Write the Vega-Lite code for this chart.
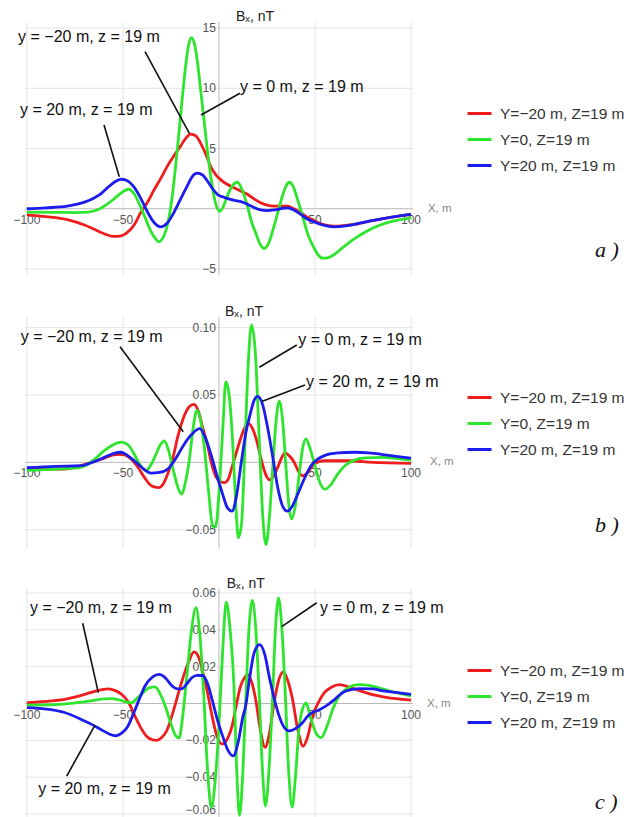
{
"$schema":"https://vega.github.io/schema/vega-lite/v6.json",
"padding":0,"spacing":0,"bounds":"flush","background":"white",
"config":{"font":"Liberation Sans","view":{"stroke":null}},
"resolve":{"scale":{"x":"independent","y":"independent","color":"independent"},"legend":{"color":"independent"}},
"datasets":{
"aR":[{"x":-100,"y":-0.5},{"x":-90,"y":-0.65},{"x":-79,"y":-0.9},{"x":-70,"y":-1.35},{"x":-65,"y":-1.7},{"x":-60,"y":-2.05},{"x":-55,"y":-2.3},{"x":-51,"y":-2.25},{"x":-48,"y":-2.0},{"x":-44,"y":-1.3},{"x":-41,"y":-0.4},{"x":-37,"y":0.6},{"x":-34,"y":1.5},{"x":-30,"y":2.6},{"x":-27,"y":3.5},{"x":-23,"y":4.5},{"x":-20,"y":5.2},{"x":-17,"y":5.9},{"x":-14.8,"y":6.2},{"x":-12,"y":6.05},{"x":-9.6,"y":5.45},{"x":-7,"y":4.6},{"x":-4.3,"y":3.5},{"x":-1.5,"y":2.8},{"x":1,"y":2.4},{"x":4,"y":2.05},{"x":7.8,"y":1.75},{"x":11,"y":1.5},{"x":14.8,"y":1.2},{"x":18,"y":0.85},{"x":21.7,"y":0.5},{"x":25,"y":0.3},{"x":28.7,"y":0.22},{"x":32,"y":0.22},{"x":35.7,"y":0.22},{"x":39,"y":0.0},{"x":42.6,"y":-0.33},{"x":46,"y":-0.7},{"x":49.6,"y":-1.0},{"x":54,"y":-1.3},{"x":60,"y":-1.45},{"x":65,"y":-1.4},{"x":70.4,"y":-1.3},{"x":76,"y":-1.1},{"x":82.6,"y":-0.9},{"x":90,"y":-0.7},{"x":100,"y":-0.47}],
"aG":[{"x":-100,"y":-0.28},{"x":-85,"y":-0.3},{"x":-75,"y":-0.32},{"x":-68,"y":-0.28},{"x":-62,"y":0},{"x":-58,"y":0.4},{"x":-55,"y":0.77},{"x":-51,"y":1.3},{"x":-47,"y":1.62},{"x":-44,"y":1.2},{"x":-41,"y":0.22},{"x":-38,"y":-0.9},{"x":-35.7,"y":-1.8},{"x":-33,"y":-2.5},{"x":-31.3,"y":-2.75},{"x":-29.5,"y":-2.5},{"x":-27,"y":-1.43},{"x":-24.5,"y":0.8},{"x":-21.7,"y":4.9},{"x":-19.5,"y":8.5},{"x":-17.4,"y":11.8},{"x":-15.8,"y":13.6},{"x":-14.3,"y":14.2},{"x":-12.8,"y":13.7},{"x":-11.3,"y":12.3},{"x":-9.5,"y":9.8},{"x":-7.8,"y":7.4},{"x":-6,"y":4.8},{"x":-4.3,"y":2.7},{"x":-2,"y":0.6},{"x":0.3,"y":-0.22},{"x":2.3,"y":0.2},{"x":4.3,"y":1.05},{"x":7,"y":1.9},{"x":9.6,"y":2.2},{"x":12,"y":1.6},{"x":14.8,"y":0.22},{"x":17,"y":-1.1},{"x":19.1,"y":-2.0},{"x":21.3,"y":-2.9},{"x":23.5,"y":-3.3},{"x":25.8,"y":-2.9},{"x":28.7,"y":-1.43},{"x":31,"y":-0.1},{"x":33,"y":1.05},{"x":35,"y":1.9},{"x":36.5,"y":2.2},{"x":38.5,"y":1.9},{"x":40.9,"y":0.77},{"x":43.5,"y":-0.6},{"x":46,"y":-2.0},{"x":49,"y":-3.1},{"x":51.5,"y":-3.8},{"x":54,"y":-4.1},{"x":57,"y":-4.05},{"x":60,"y":-3.8},{"x":65,"y":-3.15},{"x":70.4,"y":-2.5},{"x":76,"y":-1.95},{"x":82.6,"y":-1.43},{"x":90,"y":-1.05},{"x":100,"y":-0.75}],
"aB":[{"x":-100,"y":0},{"x":-90,"y":0.08},{"x":-79,"y":0.22},{"x":-70,"y":0.55},{"x":-65,"y":0.9},{"x":-61,"y":1.3},{"x":-58,"y":1.75},{"x":-54.5,"y":2.2},{"x":-51,"y":2.45},{"x":-48,"y":2.35},{"x":-44,"y":1.75},{"x":-40.5,"y":0.8},{"x":-37,"y":-0.33},{"x":-34,"y":-1.1},{"x":-30.4,"y":-1.5},{"x":-27,"y":-1.2},{"x":-23.5,"y":-0.33},{"x":-20,"y":0.8},{"x":-16.5,"y":1.9},{"x":-14,"y":2.65},{"x":-11.3,"y":2.95},{"x":-8.5,"y":2.8},{"x":-6,"y":2.3},{"x":-3.5,"y":1.7},{"x":-0.9,"y":1.2},{"x":2.5,"y":0.95},{"x":6,"y":0.77},{"x":9.5,"y":0.65},{"x":13,"y":0.5},{"x":17,"y":0.2},{"x":21.7,"y":-0.1},{"x":25,"y":-0.15},{"x":28.7,"y":-0.1},{"x":32,"y":0.0},{"x":35.7,"y":0.08},{"x":39,"y":-0.1},{"x":42.6,"y":-0.47},{"x":46,"y":-0.85},{"x":49.6,"y":-1.1},{"x":54,"y":-1.35},{"x":60,"y":-1.5},{"x":65,"y":-1.45},{"x":70.4,"y":-1.3},{"x":76,"y":-1.1},{"x":82.6,"y":-0.9},{"x":90,"y":-0.7},{"x":100,"y":-0.47}],
"bR":[{"x":-100,"y":-0.005},{"x":-90,"y":-0.005},{"x":-80.5,"y":-0.005},{"x":-73,"y":-0.003},{"x":-66.7,"y":0},{"x":-60,"y":0.003},{"x":-55,"y":0.0055},{"x":-52,"y":0.006},{"x":-49,"y":0.0055},{"x":-45.8,"y":0.0025},{"x":-42,"y":-0.004},{"x":-38.9,"y":-0.011},{"x":-35,"y":-0.0175},{"x":-31.5,"y":-0.0187},{"x":-29,"y":-0.016},{"x":-26.7,"y":-0.0087},{"x":-24,"y":0.003},{"x":-21.5,"y":0.0187},{"x":-19,"y":0.031},{"x":-17,"y":0.038},{"x":-15,"y":0.042},{"x":-13,"y":0.043},{"x":-10.5,"y":0.037},{"x":-8.5,"y":0.026},{"x":-6,"y":0.013},{"x":-4.2,"y":0.001},{"x":-1.5,"y":-0.011},{"x":1,"y":-0.0145},{"x":3,"y":-0.015},{"x":5,"y":-0.012},{"x":6.3,"y":-0.006},{"x":9,"y":0.007},{"x":11.5,"y":0.0187},{"x":13.5,"y":0.026},{"x":15.3,"y":0.029},{"x":17.5,"y":0.025},{"x":20.1,"y":0.0137},{"x":22,"y":0.002},{"x":23.6,"y":-0.006},{"x":25,"y":-0.011},{"x":26.7,"y":-0.013},{"x":28.5,"y":-0.01},{"x":30.6,"y":-0.0037},{"x":32.5,"y":0.003},{"x":34.4,"y":0.007},{"x":36.5,"y":0.005},{"x":39.2,"y":0},{"x":41.5,"y":-0.007},{"x":43.6,"y":-0.01},{"x":46,"y":-0.008},{"x":48.8,"y":-0.0025},{"x":52,"y":0.0005},{"x":54.9,"y":0.0012},{"x":67,"y":0.0012},{"x":80,"y":0},{"x":100,"y":-0.0007}],
"bG":[{"x":-100,"y":-0.006},{"x":-85,"y":-0.005},{"x":-72,"y":-0.0037},{"x":-65,"y":0.002},{"x":-59.7,"y":0.0087},{"x":-55,"y":0.013},{"x":-51,"y":0.015},{"x":-47,"y":0.0125},{"x":-44.1,"y":0.006},{"x":-41,"y":-0.002},{"x":-38,"y":-0.006},{"x":-35.5,"y":-0.002},{"x":-32.8,"y":0.006},{"x":-30.5,"y":0.013},{"x":-28.5,"y":0.016},{"x":-26.5,"y":0.01},{"x":-24.1,"y":-0.0037},{"x":-21.5,"y":-0.018},{"x":-19.4,"y":-0.0236},{"x":-17.5,"y":-0.015},{"x":-15.5,"y":0.0012},{"x":-13.5,"y":0.025},{"x":-11.5,"y":0.0385},{"x":-9.7,"y":0.032},{"x":-7.6,"y":0.011},{"x":-5.5,"y":-0.02},{"x":-3.3,"y":-0.047},{"x":-1.8,"y":-0.048},{"x":0.2,"y":-0.0187},{"x":2,"y":0.025},{"x":3.6,"y":0.06},{"x":5.3,"y":0.05},{"x":7.1,"y":0.016},{"x":8.7,"y":-0.03},{"x":10.1,"y":-0.056},{"x":11.8,"y":-0.045},{"x":13.5,"y":0.011},{"x":15.3,"y":0.075},{"x":17,"y":0.102},{"x":19,"y":0.08},{"x":21,"y":0.016},{"x":22.8,"y":-0.04},{"x":24.5,"y":-0.061},{"x":26.3,"y":-0.04},{"x":28,"y":-0.0037},{"x":29.7,"y":0.03},{"x":31.4,"y":0.0455},{"x":33.2,"y":0.03},{"x":34.9,"y":-0.0037},{"x":36.4,"y":-0.032},{"x":37.8,"y":-0.042},{"x":39.8,"y":-0.032},{"x":41.8,"y":-0.0087},{"x":43.5,"y":0.01},{"x":45.3,"y":0.0174},{"x":47.5,"y":0.01},{"x":49.7,"y":-0.0012},{"x":52.5,"y":-0.015},{"x":55.2,"y":-0.02},{"x":58,"y":-0.017},{"x":61.8,"y":-0.0087},{"x":66,"y":-0.002},{"x":70.5,"y":0.0017},{"x":77,"y":0.0033},{"x":84.4,"y":0.0037},{"x":92,"y":0.003},{"x":100,"y":0.0017}],
"bB":[{"x":-100,"y":-0.004},{"x":-85,"y":-0.003},{"x":-72,"y":-0.0025},{"x":-65,"y":0.0005},{"x":-59.7,"y":0.0037},{"x":-55,"y":0.0065},{"x":-51,"y":0.0075},{"x":-47.5,"y":0.005},{"x":-44.1,"y":0.0012},{"x":-40,"y":-0.004},{"x":-35.4,"y":-0.008},{"x":-31,"y":-0.0075},{"x":-26.7,"y":-0.005},{"x":-22,"y":0.004},{"x":-18,"y":0.0137},{"x":-14,"y":0.021},{"x":-10,"y":0.025},{"x":-7,"y":0.018},{"x":-4.2,"y":0.006},{"x":-1,"y":-0.01},{"x":1.9,"y":-0.0236},{"x":4.5,"y":-0.034},{"x":6.8,"y":-0.0362},{"x":9,"y":-0.026},{"x":11.5,"y":-0.0012},{"x":14,"y":0.022},{"x":16.3,"y":0.036},{"x":18.3,"y":0.046},{"x":20.1,"y":0.049},{"x":22.5,"y":0.044},{"x":25.3,"y":0.026},{"x":28,"y":0.004},{"x":30.6,"y":-0.0187},{"x":33,"y":-0.032},{"x":35.6,"y":-0.0362},{"x":38,"y":-0.033},{"x":41,"y":-0.0236},{"x":44.5,"y":-0.012},{"x":47.9,"y":-0.0025},{"x":51,"y":0.002},{"x":54.9,"y":0.005},{"x":62,"y":0.007},{"x":70.5,"y":0.0075},{"x":78,"y":0.007},{"x":84.4,"y":0.006},{"x":92,"y":0.0045},{"x":100,"y":0.0032}],
"cR":[{"x":-100,"y":0.0005},{"x":-90,"y":0.0012},{"x":-80.4,"y":0.0023},{"x":-72,"y":0.0043},{"x":-66.5,"y":0.006},{"x":-61,"y":0.0075},{"x":-57.7,"y":0.0079},{"x":-54,"y":0.007},{"x":-50.7,"y":0.005},{"x":-47,"y":0.0005},{"x":-43.8,"y":-0.0067},{"x":-40.5,"y":-0.0135},{"x":-37.7,"y":-0.0178},{"x":-34.5,"y":-0.0198},{"x":-32.4,"y":-0.02},{"x":-29.8,"y":-0.0185},{"x":-27.2,"y":-0.0148},{"x":-24,"y":-0.005},{"x":-21,"y":0.006},{"x":-18.4,"y":0.015},{"x":-15.8,"y":0.0225},{"x":-13,"y":0.028},{"x":-10.5,"y":0.025},{"x":-8.8,"y":0.0186},{"x":-6,"y":0.006},{"x":-3.6,"y":-0.0067},{"x":-1,"y":-0.018},{"x":1.7,"y":-0.022},{"x":4.5,"y":-0.019},{"x":6.9,"y":-0.012},{"x":9,"y":-0.001},{"x":11.3,"y":0.0096},{"x":13.3,"y":0.014},{"x":15.1,"y":0.0157},{"x":17.2,"y":0.011},{"x":19.1,"y":0.0023},{"x":21.5,"y":-0.014},{"x":24,"y":-0.0238},{"x":26.3,"y":-0.016},{"x":28.7,"y":0.0005},{"x":31.2,"y":0.013},{"x":33.5,"y":0.0172},{"x":35.8,"y":0.0125},{"x":38.3,"y":0.0023},{"x":41,"y":-0.014},{"x":43.8,"y":-0.0232},{"x":46.2,"y":-0.018},{"x":48.8,"y":-0.0067},{"x":52,"y":0.001},{"x":55,"y":0.006},{"x":58.5,"y":0.0088},{"x":62.8,"y":0.0102},{"x":68,"y":0.0088},{"x":73.3,"y":0.0069},{"x":80,"y":0.0048},{"x":85.5,"y":0.0036},{"x":92,"y":0.0026},{"x":100,"y":0.0018}],
"cG":[{"x":-100,"y":-0.0009},{"x":-85,"y":-0.0006},{"x":-75,"y":0.0003},{"x":-66,"y":0.0015},{"x":-60,"y":0.0025},{"x":-56,"y":0.0027},{"x":-52,"y":0.002},{"x":-48,"y":0.0008},{"x":-45.5,"y":0.0005},{"x":-42.5,"y":0.003},{"x":-40.3,"y":0.005},{"x":-36.5,"y":0.0085},{"x":-33.3,"y":0.009},{"x":-30.5,"y":0.005},{"x":-28,"y":-0.0013},{"x":-25,"y":-0.011},{"x":-22.5,"y":-0.0175},{"x":-20.7,"y":-0.0186},{"x":-19,"y":-0.008},{"x":-16.7,"y":0.015},{"x":-14.5,"y":0.038},{"x":-12,"y":0.052},{"x":-10,"y":0.038},{"x":-8,"y":0.006},{"x":-6,"y":-0.035},{"x":-4,"y":-0.0565},{"x":-1.8,"y":-0.04},{"x":0,"y":-0.012},{"x":2,"y":0.03},{"x":3.8,"y":0.055},{"x":5.8,"y":0.04},{"x":7.8,"y":0.0096},{"x":9.2,"y":-0.035},{"x":10.7,"y":-0.0608},{"x":12.3,"y":-0.04},{"x":13.9,"y":0.0005},{"x":15.6,"y":0.04},{"x":17.4,"y":0.056},{"x":19.2,"y":0.04},{"x":20.9,"y":0.006},{"x":22.6,"y":-0.035},{"x":24.2,"y":-0.0556},{"x":26.1,"y":-0.035},{"x":27.8,"y":0.0005},{"x":29.4,"y":0.04},{"x":31,"y":0.0574},{"x":32.8,"y":0.04},{"x":34.5,"y":0.006},{"x":36.2,"y":-0.035},{"x":38.1,"y":-0.0563},{"x":39.8,"y":-0.04},{"x":41.5,"y":-0.0157},{"x":43.5,"y":-0.003},{"x":45.5,"y":0.0003},{"x":47,"y":-0.005},{"x":48.8,"y":-0.0112},{"x":51,"y":-0.017},{"x":53.2,"y":-0.0185},{"x":56,"y":-0.013},{"x":59.3,"y":-0.003},{"x":62.5,"y":0.004},{"x":66.3,"y":0.0078},{"x":70,"y":0.0098},{"x":73.3,"y":0.0103},{"x":78,"y":0.0098},{"x":85.5,"y":0.0078},{"x":92,"y":0.006},{"x":100,"y":0.0041}],
"cB":[{"x":-100,"y":-0.0022},{"x":-90,"y":-0.003},{"x":-80.4,"y":-0.0049},{"x":-72,"y":-0.0085},{"x":-66.5,"y":-0.0112},{"x":-60,"y":-0.015},{"x":-55.5,"y":-0.0172},{"x":-53.4,"y":-0.0175},{"x":-50.5,"y":-0.016},{"x":-47.5,"y":-0.0125},{"x":-45.5,"y":-0.008},{"x":-42,"y":0.001},{"x":-38.5,"y":0.0095},{"x":-34.5,"y":0.0145},{"x":-31,"y":0.0158},{"x":-27.5,"y":0.0135},{"x":-24.5,"y":0.0096},{"x":-21.5,"y":0.0079},{"x":-19.3,"y":0.008},{"x":-16.5,"y":0.011},{"x":-14,"y":0.0141},{"x":-11.5,"y":0.0153},{"x":-8.5,"y":0.0152},{"x":-6,"y":0.011},{"x":-3.6,"y":0.0023},{"x":-0.5,"y":-0.01},{"x":2,"y":-0.018},{"x":4.5,"y":-0.025},{"x":7.5,"y":-0.0284},{"x":10,"y":-0.021},{"x":12.5,"y":-0.007},{"x":13.9,"y":-0.0013},{"x":16,"y":0.014},{"x":18.3,"y":0.0276},{"x":21.2,"y":0.032},{"x":24,"y":0.026},{"x":26.1,"y":0.015},{"x":28.7,"y":0.003},{"x":31.3,"y":-0.0067},{"x":34,"y":-0.013},{"x":36.6,"y":-0.0149},{"x":40,"y":-0.0135},{"x":43.6,"y":-0.0103},{"x":46.5,"y":-0.0065},{"x":48.8,"y":-0.0049},{"x":52,"y":-0.0035},{"x":55.8,"y":-0.0013},{"x":60,"y":0.002},{"x":64.5,"y":0.006},{"x":69,"y":0.0075},{"x":73.3,"y":0.0081},{"x":80,"y":0.0079},{"x":85.5,"y":0.0069},{"x":92,"y":0.006},{"x":100,"y":0.005}]
},
"vconcat":[
{"width":630,"height":280,
"encoding":{"x":{"field":"x","type":"quantitative","scale":{"domain":[-114,214],"nice":false,"zero":false},"axis":null},"y":{"field":"y","type":"quantitative","scale":{"domain":[-5.913,17.324],"nice":false,"zero":false},"axis":null}},
"layer":[
{"data":{"values":[{"x":-100,"y":-5.5,"x2":-100,"y2":15.5},{"x":-50,"y":-5.5,"x2":-50,"y2":15.5},{"x":50,"y":-5.5,"x2":50,"y2":15.5},{"x":100,"y":-5.5,"x2":100,"y2":15.5},{"x":-101,"y":15,"x2":101,"y2":15},{"x":-101,"y":10,"x2":101,"y2":10},{"x":-101,"y":5,"x2":101,"y2":5},{"x":-101,"y":-5,"x2":101,"y2":-5}]},"mark":{"type":"rule","color":"#e4e4e4","strokeWidth":1},"encoding":{"x2":{"field":"x2"},"y2":{"field":"y2"}}},
{"data":{"values":[{"x":-101,"y":0,"x2":101,"y2":0},{"x":0,"y":-5.5,"x2":0,"y2":15.5}]},"mark":{"type":"rule","color":"#b8b8b8","strokeWidth":1},"encoding":{"x2":{"field":"x2"},"y2":{"field":"y2"}}},
{"data":{"values":[{"x":-100,"y":0,"t":"−100"},{"x":-50,"y":0,"t":"−50"},{"x":50,"y":0,"t":"50"},{"x":100,"y":0,"t":"100"}]},"mark":{"type":"text","fontSize":12,"color":"#555","baseline":"middle","align":"center","dy":11},"encoding":{"text":{"field":"t"}}},
{"data":{"values":[{"x":0,"y":15,"t":"15"},{"x":0,"y":10,"t":"10"},{"x":0,"y":5,"t":"5"},{"x":0,"y":-5,"t":"−5"}]},"mark":{"type":"text","fontSize":12,"color":"#555","baseline":"middle","align":"right","dx":-3},"encoding":{"text":{"field":"t"}}},
{"data":{"name":"aR"},"mark":{"type":"line","interpolate":"monotone","strokeWidth":2.8},"encoding":{"color":{"datum":"Y=−20 m, Z=19 m","type":"nominal","scale":{"domain":["Y=−20 m, Z=19 m","Y=0, Z=19 m","Y=20 m, Z=19 m"],"range":["#ee1c1c","#2ee52e","#1c1cee"]},"legend":{"orient":"none","legendX":466,"legendY":100,"title":null,"symbolType":"stroke","symbolSize":576,"symbolStrokeWidth":3,"labelFontSize":15.5,"labelColor":"#333","rowPadding":4,"labelOffset":7,"padding":0}}}},
{"data":{"name":"aG"},"mark":{"type":"line","interpolate":"monotone","strokeWidth":2.8},"encoding":{"color":{"datum":"Y=0, Z=19 m","type":"nominal"}}},
{"data":{"name":"aB"},"mark":{"type":"line","interpolate":"monotone","strokeWidth":2.8},"encoding":{"color":{"datum":"Y=20 m, Z=19 m","type":"nominal"}}},
{"data":{"values":[{"x":-38.5,"y":13.03,"x2":-15.4,"y2":6.26},{"x":10.95,"y":9.58,"x2":-9.35,"y2":7.78},{"x":-59.85,"y":6.95,"x2":-51.9,"y2":2.66}]},"mark":{"type":"rule","color":"#111","strokeWidth":1.6},"encoding":{"x2":{"field":"x2"},"y2":{"field":"y2"}}},
{"data":{"values":[{"x":-104.6,"y":14.25,"t":"y = −20 m, z = 19 m"},{"x":10.95,"y":10.1,"t":"y = 0 m, z = 19 m"},{"x":-103.6,"y":8.19,"t":"y = 20 m, z = 19 m"}]},"mark":{"type":"text","fontSize":16,"color":"#111","align":"left","baseline":"middle"},"encoding":{"text":{"field":"t"}}},
{"data":{"values":[{"x":8.87,"y":15.94,"t":"Bₓ, nT"}]},"mark":{"type":"text","fontSize":14,"color":"#222","align":"left","baseline":"middle"},"encoding":{"text":{"field":"t"}}},
{"data":{"values":[{"x":108.8,"y":0,"t":"X, m"}]},"mark":{"type":"text","fontSize":11.5,"color":"#888","align":"left","baseline":"middle"},"encoding":{"text":{"field":"t"}}},
{"data":{"values":[{"x":195.8,"y":-3.42,"t":"a )"}]},"mark":{"type":"text","fontSize":22,"font":"Liberation Serif","fontStyle":"italic","color":"#111","align":"left","baseline":"middle"},"encoding":{"text":{"field":"t"}}}
]},
{"width":630,"height":280,
"encoding":{"x":{"field":"x","type":"quantitative","scale":{"domain":[-114,214],"nice":false,"zero":false},"axis":null},"y":{"field":"y","type":"quantitative","scale":{"domain":[-0.0725,0.1354],"nice":false,"zero":false},"axis":null}},
"layer":[
{"data":{"values":[{"x":-100,"y":-0.064,"x2":-100,"y2":0.108},{"x":-50,"y":-0.064,"x2":-50,"y2":0.108},{"x":50,"y":-0.064,"x2":50,"y2":0.108},{"x":100,"y":-0.064,"x2":100,"y2":0.108},{"x":-101,"y":0.1,"x2":101,"y2":0.1},{"x":-101,"y":0.05,"x2":101,"y2":0.05},{"x":-101,"y":-0.05,"x2":101,"y2":-0.05}]},"mark":{"type":"rule","color":"#e4e4e4","strokeWidth":1},"encoding":{"x2":{"field":"x2"},"y2":{"field":"y2"}}},
{"data":{"values":[{"x":-101,"y":0,"x2":101,"y2":0},{"x":0,"y":-0.064,"x2":0,"y2":0.108}]},"mark":{"type":"rule","color":"#b8b8b8","strokeWidth":1},"encoding":{"x2":{"field":"x2"},"y2":{"field":"y2"}}},
{"data":{"values":[{"x":-100,"y":0,"t":"−100"},{"x":-50,"y":0,"t":"−50"},{"x":50,"y":0,"t":"50"},{"x":100,"y":0,"t":"100"}]},"mark":{"type":"text","fontSize":12,"color":"#555","baseline":"middle","align":"center","dy":11},"encoding":{"text":{"field":"t"}}},
{"data":{"values":[{"x":0,"y":0.1,"t":"0.10"},{"x":0,"y":0.05,"t":"0.05"},{"x":0,"y":-0.05,"t":"−0.05"}]},"mark":{"type":"text","fontSize":12,"color":"#555","baseline":"middle","align":"right","dx":-3},"encoding":{"text":{"field":"t"}}},
{"data":{"name":"bR"},"mark":{"type":"line","interpolate":"monotone","strokeWidth":2.8},"encoding":{"color":{"datum":"Y=−20 m, Z=19 m","type":"nominal","scale":{"domain":["Y=−20 m, Z=19 m","Y=0, Z=19 m","Y=20 m, Z=19 m"],"range":["#ee1c1c","#2ee52e","#1c1cee"]},"legend":{"orient":"none","legendX":466,"legendY":104,"title":null,"symbolType":"stroke","symbolSize":576,"symbolStrokeWidth":3,"labelFontSize":15.5,"labelColor":"#333","rowPadding":4,"labelOffset":7,"padding":0}}}},
{"data":{"name":"bG"},"mark":{"type":"line","interpolate":"monotone","strokeWidth":2.8},"encoding":{"color":{"datum":"Y=0, Z=19 m","type":"nominal"}}},
{"data":{"name":"bB"},"mark":{"type":"line","interpolate":"monotone","strokeWidth":2.8},"encoding":{"color":{"datum":"Y=20 m, Z=19 m","type":"nominal"}}},
{"data":{"values":[{"x":-51.5,"y":0.0859,"x2":-18.6,"y2":0.0228},{"x":40.5,"y":0.0871,"x2":21.0,"y2":0.0706},{"x":44.8,"y":0.0574,"x2":22.25,"y2":0.0451}]},"mark":{"type":"rule","color":"#111","strokeWidth":1.6},"encoding":{"x2":{"field":"x2"},"y2":{"field":"y2"}}},
{"data":{"values":[{"x":-103.2,"y":0.0929,"t":"y = −20 m, z = 19 m"},{"x":41.3,"y":0.0909,"t":"y = 0 m, z = 19 m"},{"x":45.3,"y":0.0599,"t":"y = 20 m, z = 19 m"}]},"mark":{"type":"text","fontSize":16,"color":"#111","align":"left","baseline":"middle"},"encoding":{"text":{"field":"t"}}},
{"data":{"values":[{"x":3.15,"y":0.1119,"t":"Bₓ, nT"}]},"mark":{"type":"text","fontSize":14,"color":"#222","align":"left","baseline":"middle"},"encoding":{"text":{"field":"t"}}},
{"data":{"values":[{"x":109.9,"y":0,"t":"X, m"}]},"mark":{"type":"text","fontSize":11.5,"color":"#888","align":"left","baseline":"middle"},"encoding":{"text":{"field":"t"}}},
{"data":{"values":[{"x":195.8,"y":-0.0465,"t":"b )"}]},"mark":{"type":"text","fontSize":22,"font":"Liberation Serif","fontStyle":"italic","color":"#111","align":"left","baseline":"middle"},"encoding":{"text":{"field":"t"}}}
]},
{"width":630,"height":257,
"encoding":{"x":{"field":"x","type":"quantitative","scale":{"domain":[-114,214],"nice":false,"zero":false},"axis":null},"y":{"field":"y","type":"quantitative","scale":{"domain":[-0.06163,0.07792],"nice":false,"zero":false},"axis":null}},
"layer":[
{"data":{"values":[{"x":-100,"y":-0.0616,"x2":-100,"y2":0.0625},{"x":-50,"y":-0.0616,"x2":-50,"y2":0.0625},{"x":50,"y":-0.0616,"x2":50,"y2":0.0625},{"x":100,"y":-0.0616,"x2":100,"y2":0.0625},{"x":-101,"y":0.06,"x2":101,"y2":0.06},{"x":-101,"y":0.04,"x2":101,"y2":0.04},{"x":-101,"y":0.02,"x2":101,"y2":0.02},{"x":-101,"y":-0.02,"x2":101,"y2":-0.02},{"x":-101,"y":-0.04,"x2":101,"y2":-0.04},{"x":-101,"y":-0.06,"x2":101,"y2":-0.06}]},"mark":{"type":"rule","color":"#e4e4e4","strokeWidth":1},"encoding":{"x2":{"field":"x2"},"y2":{"field":"y2"}}},
{"data":{"values":[{"x":-101,"y":0,"x2":101,"y2":0},{"x":0,"y":-0.0616,"x2":0,"y2":0.0625}]},"mark":{"type":"rule","color":"#b8b8b8","strokeWidth":1},"encoding":{"x2":{"field":"x2"},"y2":{"field":"y2"}}},
{"data":{"values":[{"x":-100,"y":0,"t":"−100"},{"x":-50,"y":0,"t":"−50"},{"x":50,"y":0,"t":"50"},{"x":100,"y":0,"t":"100"}]},"mark":{"type":"text","fontSize":12,"color":"#555","baseline":"middle","align":"center","dy":11},"encoding":{"text":{"field":"t"}}},
{"data":{"values":[{"x":0,"y":0.06,"t":"0.06"},{"x":0,"y":0.04,"t":"0.04"},{"x":0,"y":0.02,"t":"0.02"},{"x":0,"y":-0.02,"t":"−0.02"},{"x":0,"y":-0.04,"t":"−0.04"},{"x":0,"y":-0.058,"t":"−0.06"}]},"mark":{"type":"text","fontSize":12,"color":"#555","baseline":"middle","align":"right","dx":-3},"encoding":{"text":{"field":"t"}}},
{"data":{"name":"cR"},"mark":{"type":"line","interpolate":"monotone","strokeWidth":2.8},"encoding":{"color":{"datum":"Y=−20 m, Z=19 m","type":"nominal","scale":{"domain":["Y=−20 m, Z=19 m","Y=0, Z=19 m","Y=20 m, Z=19 m"],"range":["#ee1c1c","#2ee52e","#1c1cee"]},"legend":{"orient":"none","legendX":466,"legendY":97,"title":null,"symbolType":"stroke","symbolSize":576,"symbolStrokeWidth":3,"labelFontSize":15.5,"labelColor":"#333","rowPadding":4,"labelOffset":7,"padding":0}}}},
{"data":{"name":"cG"},"mark":{"type":"line","interpolate":"monotone","strokeWidth":2.8},"encoding":{"color":{"datum":"Y=0, Z=19 m","type":"nominal"}}},
{"data":{"name":"cB"},"mark":{"type":"line","interpolate":"monotone","strokeWidth":2.8},"encoding":{"color":{"datum":"Y=20 m, Z=19 m","type":"nominal"}}},
{"data":{"values":[{"x":-70.94,"y":0.04355,"x2":-62.82,"y2":0.00587},{"x":50.89,"y":0.0547,"x2":32.67,"y2":0.0417},{"x":-79.27,"y":-0.0394,"x2":-64.54,"y2":-0.0117}]},"mark":{"type":"rule","color":"#111","strokeWidth":1.6},"encoding":{"x2":{"field":"x2"},"y2":{"field":"y2"}}},
{"data":{"values":[{"x":-98.4,"y":0.052,"t":"y = −20 m, z = 19 m"},{"x":52.6,"y":0.052,"t":"y = 0 m, z = 19 m"},{"x":-94.1,"y":-0.0466,"t":"y = 20 m, z = 19 m"}]},"mark":{"type":"text","fontSize":16,"color":"#111","align":"left","baseline":"middle"},"encoding":{"text":{"field":"t"}}},
{"data":{"values":[{"x":4.03,"y":0.0649,"t":"Bₓ, nT"}]},"mark":{"type":"text","fontSize":14,"color":"#222","align":"left","baseline":"middle"},"encoding":{"text":{"field":"t"}}},
{"data":{"values":[{"x":108.3,"y":0,"t":"X, m"}]},"mark":{"type":"text","fontSize":11.5,"color":"#888","align":"left","baseline":"middle"},"encoding":{"text":{"field":"t"}}},
{"data":{"values":[{"x":195.8,"y":-0.0533,"t":"c )"}]},"mark":{"type":"text","fontSize":22,"font":"Liberation Serif","fontStyle":"italic","color":"#111","align":"left","baseline":"middle"},"encoding":{"text":{"field":"t"}}}
]}
]
}
